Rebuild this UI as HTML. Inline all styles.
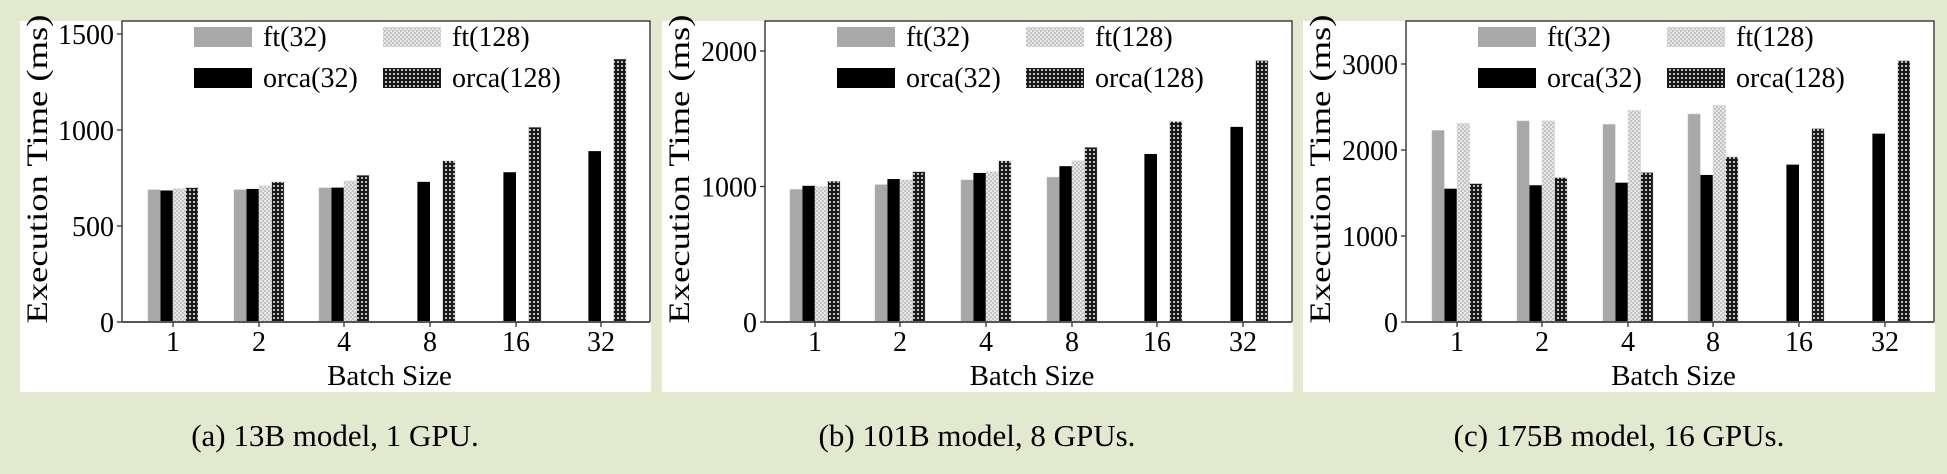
<!DOCTYPE html>
<html><head><meta charset="utf-8"><style>
html,body{margin:0;padding:0;background:#e2e9cf;}
svg{display:block;font-family:"Liberation Serif",serif;}
</style></head><body>
<svg id="s" width="1947" height="474" xmlns="http://www.w3.org/2000/svg">
<defs>
<pattern id="pl" width="4" height="4" patternUnits="userSpaceOnUse">
<rect width="4" height="4" fill="#c4c4c4"/><rect x="0" y="0" width="2" height="2" fill="#e6e6e6"/><rect x="2" y="2" width="2" height="2" fill="#e6e6e6"/>
</pattern>
<pattern id="pd" width="4" height="4" patternUnits="userSpaceOnUse">
<rect width="4" height="4" fill="#1a1a1a"/><rect x="1" y="1" width="2" height="2" fill="#bdbdbd"/>
</pattern>
</defs>
</svg>
<script>
const s=document.getElementById('s');const NS='http://www.w3.org/2000/svg';
function el(t,a,txt){const e=document.createElementNS(NS,t);for(const k in a)e.setAttribute(k,a[k]);if(txt!==undefined)e.textContent=txt;s.appendChild(e);return e;}
const panels=[
{wx:20,wr:651,ax:122,ticks:[173,259,344,430,516,601],ppu:96/500,yt:[0,500,1000,1500],
 d:[[690,690,700,null,null,null],[685,693,700,730,780,890],[695,710,735,null,null,null],[700,730,765,840,1015,1370]],cap:"(a) 13B model, 1 GPU.",cx:335},
{wx:662,wr:1293,ax:765,ticks:[815,900,986,1072,1157,1243],ppu:135.5/1000,yt:[0,1000,2000],
 d:[[980,1015,1050,1070,null,null],[1005,1055,1100,1150,1240,1440],[1000,1050,1110,1190,null,null],[1040,1110,1190,1290,1480,1930]],cap:"(b) 101B model, 8 GPUs.",cx:977},
{wx:1303,wr:1935,ax:1406,ticks:[1457,1542,1628,1713,1799,1885],ppu:86/1000,yt:[0,1000,2000,3000],
 d:[[2230,2340,2300,2420,null,null],[1550,1590,1620,1710,1830,2190],[2310,2340,2460,2520,null,null],[1610,1680,1740,1920,2250,3040]],cap:"(c) 175B model, 16 GPUs.",cx:1619}];
const fills=['#a8a8a8','#000','url(#pl)','url(#pd)'];
const offs=[-25.2,-12.6,0,12.6];const Y0=322,T=21;
panels.forEach(p=>{
 el('rect',{x:p.wx,y:T,width:p.wr-p.wx,height:392-T,fill:'#fff'});
 p.d.forEach((ser,si)=>ser.forEach((v,i)=>{if(v==null)return;const h=v*p.ppu;
   el('rect',{x:p.ticks[i]+offs[si],y:Y0-h,width:12.6,height:h,fill:fills[si],stroke:si==1?'none':'#ddd','stroke-width':0.6});}));
 el('polyline',{points:`${p.ax},${Y0} ${p.ax},${T} ${p.wr-1},${T} ${p.wr-1},${Y0}`,fill:'none',stroke:'#222','stroke-width':1.3});
 el('line',{x1:p.ax,y1:Y0,x2:p.wr-1,y2:Y0,stroke:'#555','stroke-width':2});
 p.yt.forEach(v=>{const y=Y0-v*p.ppu;el('line',{x1:p.ax-5,y1:y,x2:p.ax,y2:y,stroke:'#333','stroke-width':1.3});
   el('text',{x:p.ax-8,y:y+10,'font-size':28,'text-anchor':'end'},String(v));});
 ['1','2','4','8','16','32'].forEach((t,i)=>{el('line',{x1:p.ticks[i],y1:Y0,x2:p.ticks[i],y2:Y0+5,stroke:'#333','stroke-width':1.3});
   el('text',{x:p.ticks[i],y:351,'font-size':28,'text-anchor':'middle'},t);});
 el('text',{x:(p.ax+p.wr)/2+3,y:385,'font-size':29,'text-anchor':'middle'},'Batch Size');
 const lx=p.wx+15,ly=169;
 el('text',{x:0,y:0,'font-size':30,'text-anchor':'middle',transform:`translate(${lx+12} ${ly}) rotate(-90) scale(1.22 1)`},'Execution Time (ms)');
 const L=p.ax+72;const items=[['ft(32)',0,0,27],['ft(128)',1,2,27],['orca(32)',0,1,68],['orca(128)',1,3,68]];
 items.forEach(([t,c,f,y])=>{const x=L+c*189;el('rect',{x:x,y:y,width:58,height:20,fill:fills[f]});
   el('text',{x:x+69,y:y+19,'font-size':28},t);});
 el('text',{x:p.cx,y:446,'font-size':31,'text-anchor':'middle'},p.cap);
});
</script>
</body></html>
